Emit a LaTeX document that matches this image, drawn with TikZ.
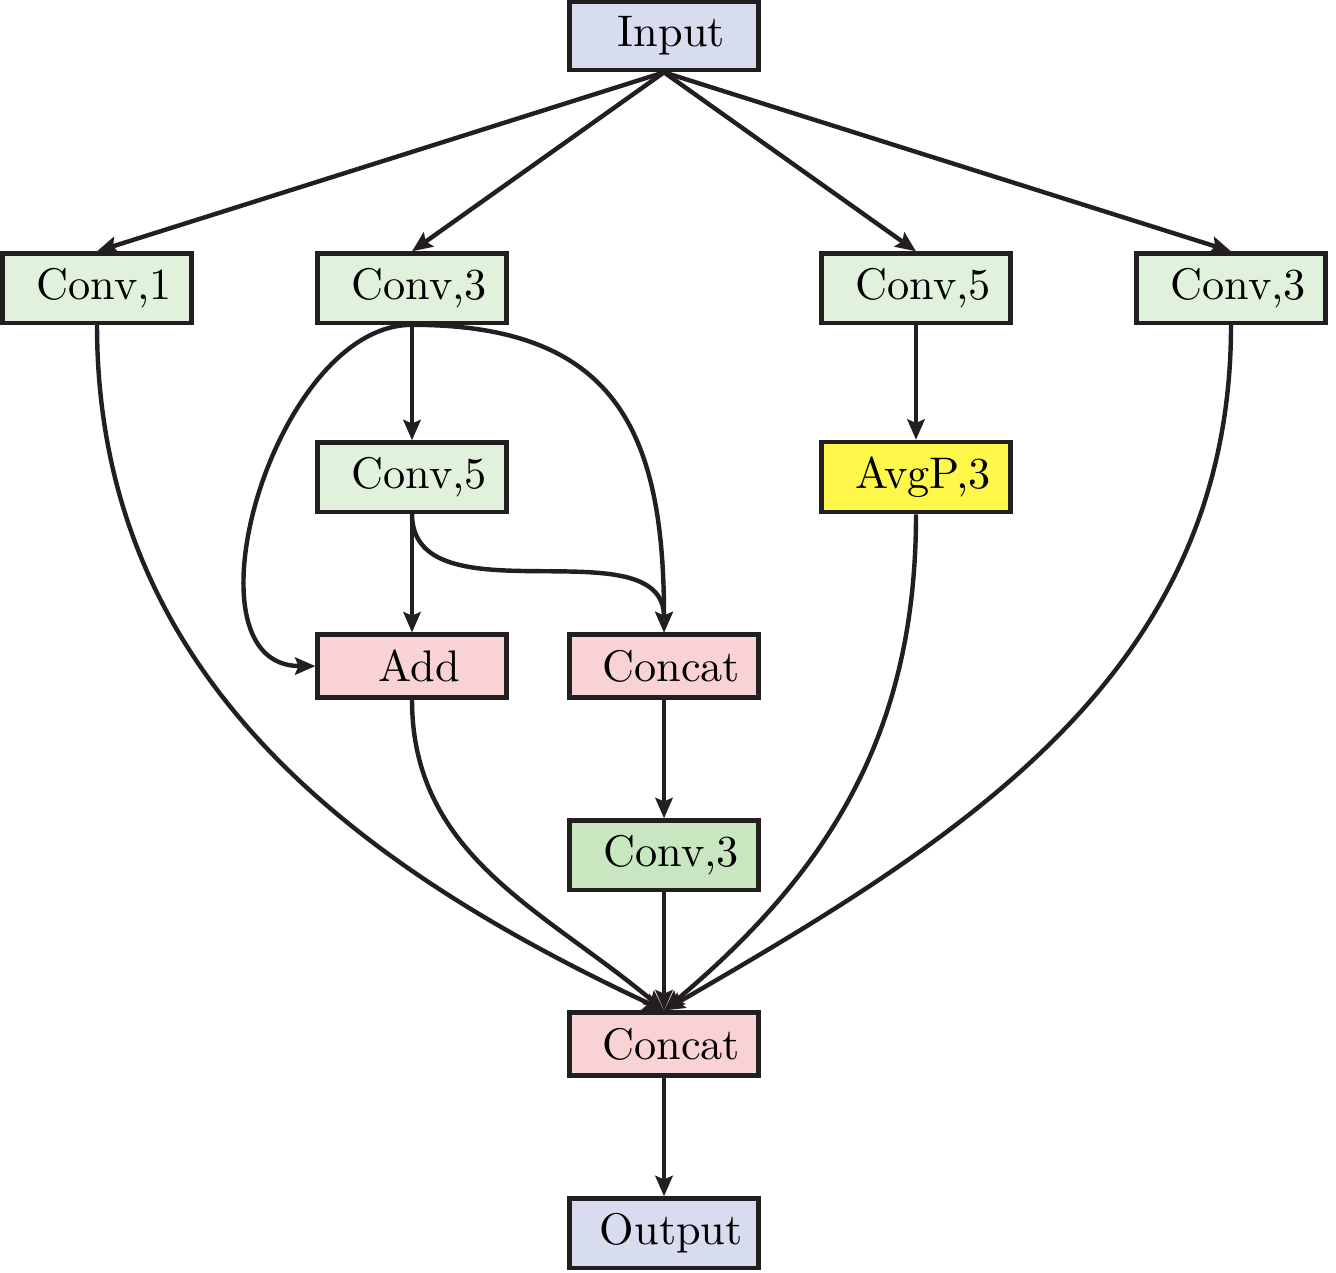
\documentclass[tikz,border=0pt]{standalone}
\usepackage{amsmath}
\usepackage{amssymb}
\usepackage{color}
\usepackage{tikz}
\usetikzlibrary{arrows.meta,positioning}
\definecolor{linec}{HTML}{231F20}
\definecolor{iofill}{HTML}{D7DCEE}
\definecolor{convfill}{HTML}{E0F2DC}
\definecolor{convdark}{HTML}{C8E7C0}
\definecolor{opfill}{HTML}{F9D2D4}
\definecolor{poolfill}{HTML}{FFF74A}
\tikzstyle{block}=[draw=linec,%
                   rectangle,%
                   line width     = 0.95pt,%
                   minimum width  = 1.5cm,%
                   minimum height = 0.5cm,%
                   execute at begin node=\hspace{0.33em},%
                   node distance  = 1.5cm]
\tikzstyle{io}=[block,fill=iofill]
\tikzstyle{conv}=[block,fill=convfill]
\tikzstyle{op}=[block,fill=opfill]
\tikzstyle{pool}=[block,fill=poolfill]
\tikzstyle{link}=[draw=linec,line width=1pt,-{Stealth[length=4.6pt,width=3.9pt,inset=0.8pt]}]

\begin{document}
\begin{tikzpicture}
            \useasboundingbox (-5.27,0.286) rectangle (5.333,-9.81);
            \node[io] (in) at (0,0) {Input};
            \node[conv][below of=in, node distance=2cm, xshift=-4.5cm] (ca) {Conv,1};
            \node[conv][below of=in, node distance=2cm, xshift=-2cm] (cb) {Conv,3};
            \node[conv][below of=in, node distance=2cm, xshift=2cm] (cc) {Conv,5};
            \node[conv][below of=in, node distance=2cm, xshift=4.5cm] (cd) {Conv,3};
            \node[conv][below of=cb] (cb5) {Conv,5};
            \node[pool][below of=cc] (pc) {AvgP,3};
            \node[op][below of=cb5] (add) {Add};
            \node[op][right of=add, node distance=2cm] (cat) {Concat};
            \node[block,fill=convdark][below of=cat] (cat3) {Conv,3};
            \node[op][below of=cat3] (out) {Concat};
            \node[io][below of=out] (res) {Output};
            % top fan
            \draw [link] (in.south) -- (ca.north);
            \draw [link] (in.south) -- (cb.north);
            \draw [link] (in.south) -- (cc.north);
            \draw [link] (in.south) -- (cd.north);
            % middle branch
            \draw [link] (cb.south) -- (cb5.north);
            \draw [link] (cb.south) to[out=180,in=180] (add.west);
            \draw [link] (cb.south) to[out=0,in=90,looseness=1.3] (cat.north);
            \draw [link] (cb5.south) -- (add.north);
            \draw [link] (cb5.south) to[out=-90,in=90] (cat.north);
            \draw [link] (cat.south) -- (cat3.north);
            \draw [link] (cc.south) -- (pc.north);
            % merge
            \draw [link] (ca.south) to[out=-90,in=155] (out.north);
            \draw [link] (add.south) to[out=-90,in=140] (out.north);
            \draw [link] (cat3.south) -- (out.north);
            \draw [link] (pc.south) to[out=-90,in=40] (out.north);
            \draw [link] (cd.south) to[out=-90,in=30] (out.north);
            \draw [link] (out.south) -- (res.north);
  \end{tikzpicture}
\end{document}
